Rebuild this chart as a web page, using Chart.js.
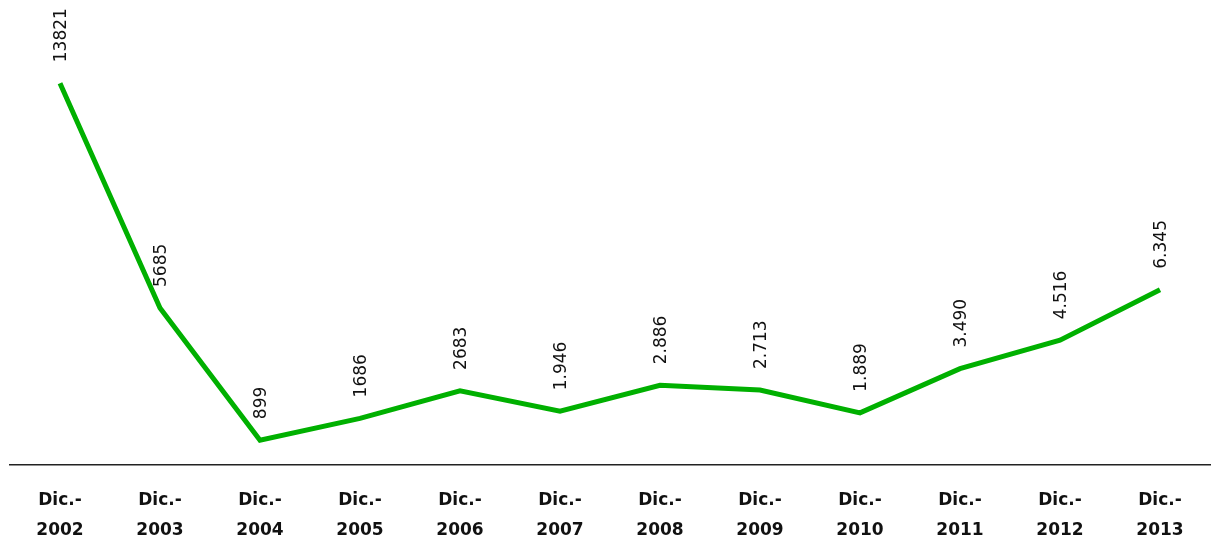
<!DOCTYPE html>
<html>
<head>
<meta charset="utf-8">
<script src="https://cdn.jsdelivr.net/npm/chart.js@4/dist/chart.umd.min.js"></script>
<style>
  html, body { margin: 0; padding: 0; background: #fff; }
  #wrap { width: 1212px; height: 542px; }
</style>
</head>
<body>
<div id="wrap"><canvas id="lineChart"></canvas></div>
<script>
// data
var years = ['2002','2003','2004','2005','2006','2007','2008','2009','2010','2011','2012','2013'];
var values = [13821, 5685, 899, 1686, 2683, 1946, 2886, 2713, 1889, 3490, 4516, 6345];
var valueLabels = ['13821','5685','899','1686','2683','1.946','2.886','2.713','1.889','3.490','4.516','6.345'];

var categories = years.map(y => ['Dic.-', y]);

// rotated value labels above each point
var rotatedLabels = {
  id: 'rotatedLabels',
  afterDatasetsDraw(chart) {
    let ctx = chart.ctx;
    let meta = chart.getDatasetMeta(0);
    ctx.save();
    ctx.font = '17px "DejaVu Sans"';
    ctx.fillStyle = '#111';
    ctx.textAlign = 'left';
    ctx.textBaseline = 'middle';
    meta.data.forEach((pt, i) => {
      ctx.save();
      ctx.translate(pt.x + 2, pt.y - 21);
      ctx.rotate(-Math.PI / 2);
      ctx.fillText(valueLabels[i], 0, 0);
      ctx.restore();
    });
    ctx.restore();
  }
};

var ctxL = document.getElementById('lineChart').getContext('2d');
var myLineChart = new Chart(ctxL, {
  type: 'line',
  data: {
    labels: categories,
    datasets: [{
      data: values,
      borderColor: '#00b000',
      borderWidth: 5,
      pointRadius: 0,
      tension: 0,
      fill: false
    }]
  },
  options: {
    responsive: true,
    maintainAspectRatio: false,
    animation: false,
    layout: { padding: { left: 10, right: 2, top: 23, bottom: 0 } },
    plugins: { legend: { display: false }, tooltip: { enabled: false } },
    scales: {
      x: {
        offset: true,
        afterFit(scale) { scale.height = 77; },
        grid: { display: false, drawTicks: false },
        border: { color: '#222', width: 1.5 },
        ticks: {
          color: '#111',
          padding: 20,
          maxRotation: 0,
          autoSkip: false,
          font: { family: 'DejaVu Sans', size: 17, weight: 'bold', lineHeight: 1.8 }
        }
      },
      y: {
        display: false,
        min: 0,
        max: 16000
      }
    }
  },
  plugins: [rotatedLabels]
});
</script>
</body>
</html>
